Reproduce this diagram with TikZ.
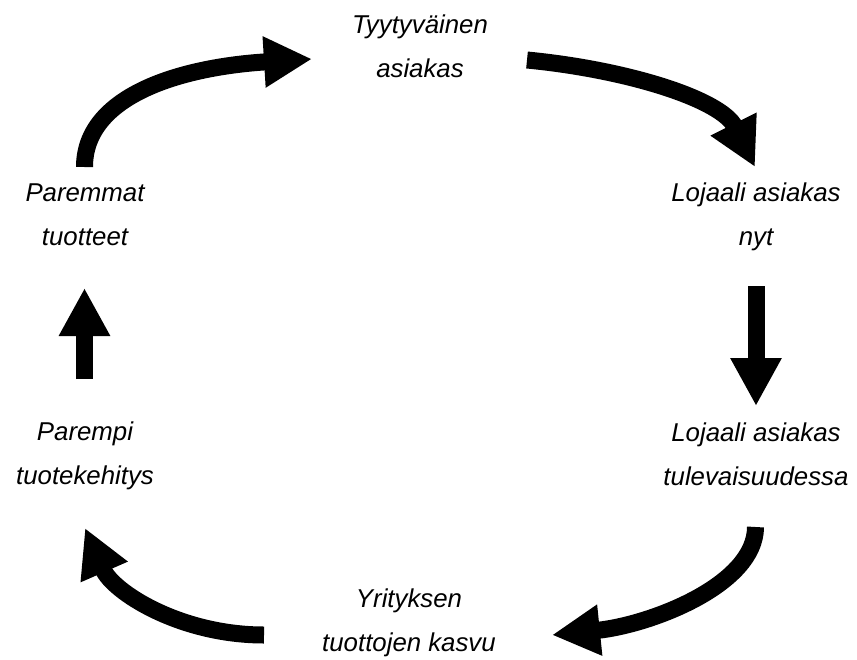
\documentclass[tikz,border=0pt]{standalone}
\usepackage{fontspec}
\setmainfont{Liberation Sans}
\usetikzlibrary{arrows.meta}

\tikzset{
  label/.style={align=center, inner sep=0pt, anchor=base,
    font={\fontsize{25.8}{44}\selectfont\itshape}},
  bigarrow/.style={line width=17pt, line cap=butt,
    -{Triangle[length=48pt, width=48pt]}},
}

\begin{document}
\begin{tikzpicture}[x=1pt, y=-1pt]
  \useasboundingbox (0,0) rectangle (857,659);

  % stages of the loyalty cycle (placed by the baseline of their last line)
  \node[label] (top)         at (420,77)  {Tyytyväinen\\asiakas};
  \node[label] (nowloyal)    at (756,245) {Lojaali asiakas\\nyt};
  \node[label] (futureloyal) at (756,485) {Lojaali asiakas\\tulevaisuudessa};
  \node[label] (revenue)     at (409,651) {Yrityksen\\tuottojen kasvu};
  \node[label] (devel)       at (85,484)  {Parempi\\tuotekehitys};
  \node[label] (products)    at (85,245)  {Paremmat\\tuotteet};

  % end points of the arrows between the stages
  \coordinate (p1s) at (84.5,167);  \coordinate (p1e) at (312,59);
  \coordinate (p2s) at (527,60);    \coordinate (p2e) at (755,167);
  \coordinate (p3s) at (756,286);   \coordinate (p3e) at (756,406);
  \coordinate (p4s) at (755.5,527); \coordinate (p4e) at (552,635);
  \coordinate (p5s) at (264,635);   \coordinate (p5e) at (85,528);
  \coordinate (p6s) at (84.5,379);  \coordinate (p6e) at (84.5,288);

  % arrows
  \draw[bigarrow] (p1s) .. controls (84.5,95) and (182,67) .. (p1e);
  \draw[bigarrow] (p2s) .. controls (630,70) and (721.5,100) .. (p2e);
  \draw[bigarrow] (p3s) -- (p3e);
  \draw[bigarrow] (p4s) .. controls (755.5,585) and (650,625) .. (p4e);
  \draw[bigarrow] (p5s) .. controls (180,635) and (113,592) .. (p5e);
  \draw[bigarrow] (p6s) -- (p6e);
\end{tikzpicture}
\end{document}
